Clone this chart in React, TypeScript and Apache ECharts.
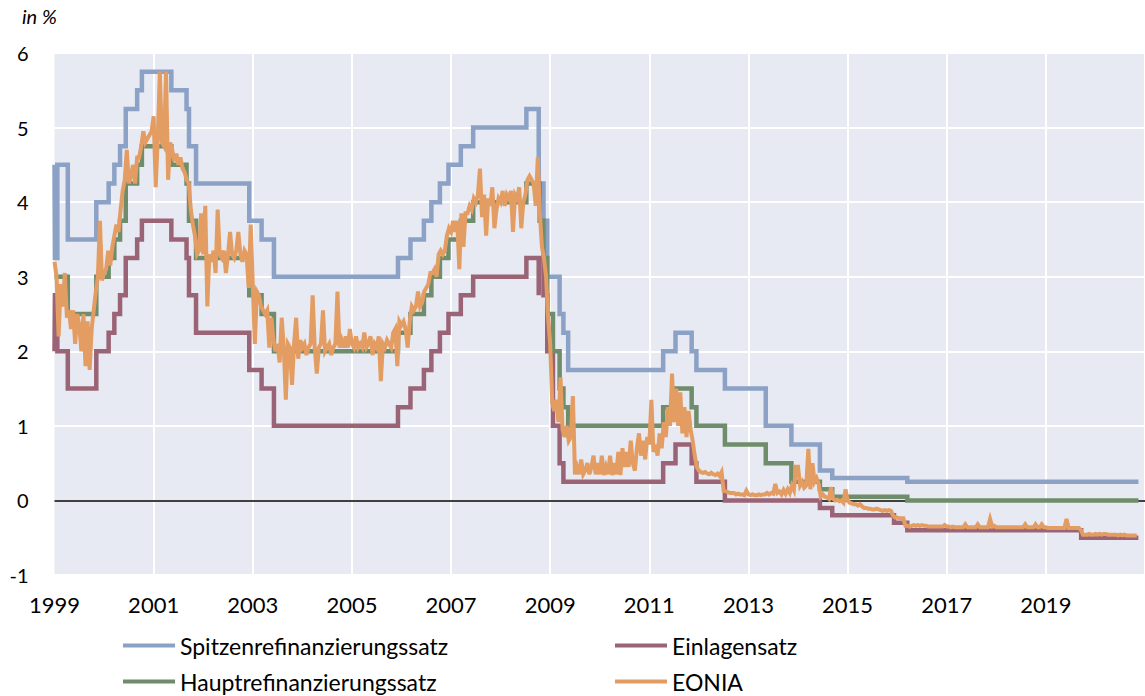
import React, { useEffect, useRef } from "react";
import * as echarts from "echarts";

// Policy rate change dates (value valid from that date on)
const rateDates = [
  "1999-01-01", "1999-01-04", "1999-01-22", "1999-04-09", "1999-11-05",
  "2000-02-04", "2000-03-17", "2000-04-28", "2000-06-09", "2000-09-01", "2000-10-06",
  "2001-05-11", "2001-08-31", "2001-09-18", "2001-11-09",
  "2002-12-06", "2003-03-07", "2003-06-06",
  "2005-12-06", "2006-03-08", "2006-06-15", "2006-08-09", "2006-10-11", "2006-12-13",
  "2007-03-14", "2007-06-13",
  "2008-07-09", "2008-10-08", "2008-10-09", "2008-10-15", "2008-11-12", "2008-12-10",
  "2009-01-21", "2009-03-11", "2009-04-08", "2009-05-13",
  "2011-04-13", "2011-07-13", "2011-11-09", "2011-12-14",
  "2012-07-11", "2013-05-08", "2013-11-13", "2014-06-11", "2014-09-10",
  "2015-12-09", "2016-03-16", "2019-09-18", "2020-11-13",
];

const spitzenrefinanzierungssatz = [
  4.5, 3.25, 4.5, 3.5, 4.0,
  4.25, 4.5, 4.75, 5.25, 5.5, 5.75,
  5.5, 5.25, 4.75, 4.25,
  3.75, 3.5, 3.0,
  3.25, 3.5, 3.75, 4.0, 4.25, 4.5,
  4.75, 5.0,
  5.25, 4.75, 4.25, 4.25, 3.75, 3.0,
  3.0, 2.5, 2.25, 1.75,
  2.0, 2.25, 2.0, 1.75,
  1.5, 1.0, 0.75, 0.4, 0.3,
  0.3, 0.25, 0.25, 0.25,
];

const hauptrefinanzierungssatz = [
  3.0, 3.0, 3.0, 2.5, 3.0,
  3.25, 3.5, 3.75, 4.25, 4.5, 4.75,
  4.5, 4.25, 3.75, 3.25,
  2.75, 2.5, 2.0,
  2.25, 2.5, 2.75, 3.0, 3.25, 3.5,
  3.75, 4.0,
  4.25, 4.25, 4.25, 3.75, 3.25, 2.5,
  2.0, 1.5, 1.25, 1.0,
  1.25, 1.5, 1.25, 1.0,
  0.75, 0.5, 0.25, 0.15, 0.05,
  0.05, 0.0, 0.0, 0.0,
];

const einlagensatz = [
  2.0, 2.75, 2.0, 1.5, 2.0,
  2.25, 2.5, 2.75, 3.25, 3.5, 3.75,
  3.5, 3.25, 2.75, 2.25,
  1.75, 1.5, 1.0,
  1.25, 1.5, 1.75, 2.0, 2.25, 2.5,
  2.75, 3.0,
  3.25, 2.75, 3.25, 3.25, 2.75, 2.0,
  1.0, 0.5, 0.25, 0.25,
  0.5, 0.75, 0.5, 0.25,
  0.0, 0.0, 0.0, -0.1, -0.2,
  -0.3, -0.4, -0.5, -0.5,
];

// EONIA, two readings per month starting January 1999
const eoniaStart = "1999-01-01";
const eoniaPerYear = 24;
const eonia = [
  // 1999
  3.2, 3.0, 2.2, 2.9, 2.6, 3.05, 2.45, 2.55, 2.3, 2.55, 2.1, 2.5, 2.35, 2.0, 2.5, 1.8, 2.4, 1.75, 2.3, 2.55, 2.8, 3.0, 3.75, 2.95,
  // 2000
  3.05, 3.1, 3.35, 3.15, 3.4, 3.55, 3.7, 3.6, 3.9, 4.15, 4.3, 4.7, 4.25, 4.35, 4.5, 4.25, 4.6, 4.6, 4.75, 4.95, 4.8, 4.85, 4.9, 4.95,
  // 2001
  5.15, 4.2, 4.85, 5.75, 4.8, 4.75, 5.75, 4.3, 4.8, 4.7, 4.55, 4.65, 4.5, 4.6, 4.45, 4.4, 4.3, 4.25, 3.9, 3.7, 3.55, 3.3, 3.35, 3.85,
  // 2002
  3.3, 3.95, 2.6, 3.3, 3.2, 3.35, 3.05, 3.9, 3.3, 3.25, 3.35, 3.05, 3.3, 3.6, 3.3, 3.25, 3.35, 3.6, 3.3, 3.2, 3.35, 3.3, 2.85, 3.7,
  // 2003
  2.9, 2.1, 2.8, 2.75, 2.6, 2.55, 2.5, 2.55, 2.05, 2.45, 2.15, 2.0, 2.1, 1.85, 2.45, 2.05, 1.35, 2.1, 2.05, 1.55, 2.1, 2.45, 1.9, 2.15,
  // 2004
  2.05, 2.1, 1.95, 2.05, 2.1, 2.75, 2.05, 1.7, 2.05, 2.1, 2.55, 2.0, 2.05, 2.1, 1.95, 2.05, 2.1, 2.8, 2.05, 2.15, 2.05, 2.2, 2.05, 2.3,
  // 2005
  2.1, 2.05, 2.2, 2.05, 2.1, 2.05, 2.25, 2.05, 2.1, 2.2, 1.95, 2.1, 2.05, 2.2, 1.6, 2.1, 2.05, 2.15, 2.1, 2.05, 2.25, 2.3, 1.8, 2.4,
  // 2006
  2.35, 2.4, 2.3, 2.05, 2.4, 2.6, 2.55, 2.6, 2.8, 2.6, 2.65, 2.8, 2.85, 2.9, 3.05, 3.05, 3.1, 3.0, 3.3, 3.35, 3.3, 3.35, 3.55, 3.65,
  // 2007
  3.6, 3.75, 3.6, 3.75, 3.1, 3.85, 3.4, 3.85, 3.85, 3.95, 3.9, 4.05, 4.0, 4.1, 4.45, 3.8, 4.1, 3.55, 4.05, 3.95, 4.2, 3.65, 3.9, 4.05,
  // 2008
  4.0, 4.15, 3.95, 4.1, 4.05, 4.15, 3.6, 4.1, 4.05, 4.2, 3.65, 4.0, 4.1, 4.3, 4.35, 4.3, 4.25, 3.95, 4.6, 3.85, 3.4, 3.25, 3.0, 2.45,
  // 2009
  2.1, 1.3, 1.2, 1.35, 1.05, 1.65, 0.95, 0.85, 1.0, 0.8, 0.85, 1.4, 0.35, 0.45, 0.35, 0.55, 0.35, 0.4, 0.5, 0.35, 0.45, 0.6, 0.35, 0.5,
  // 2010
  0.35, 0.6, 0.34, 0.45, 0.35, 0.6, 0.34, 0.5, 0.35, 0.65, 0.34, 0.7, 0.45, 0.65, 0.45, 0.8, 0.5, 0.4, 0.7, 0.9, 0.6, 0.8, 0.55, 0.85,
  // 2011
  0.75, 1.35, 0.65, 0.75, 0.6, 0.9, 0.7, 1.05, 0.85, 1.25, 1.0, 1.7, 1.05, 1.5, 1.0, 1.45, 0.9, 1.25, 0.85, 1.2, 0.95, 0.8, 0.6, 0.45,
  // 2012
  0.4, 0.38, 0.37, 0.38, 0.36, 0.35, 0.37, 0.35, 0.34, 0.36, 0.33, 0.38, 0.13, 0.12, 0.11, 0.1, 0.1, 0.1, 0.08, 0.09, 0.08, 0.08, 0.07, 0.13,
  // 2013
  0.08, 0.07, 0.08, 0.07, 0.07, 0.08, 0.07, 0.08, 0.08, 0.1, 0.08, 0.1, 0.09, 0.22, 0.1, 0.12, 0.08, 0.14, 0.09, 0.15, 0.1, 0.2, 0.14, 0.45,
  // 2014
  0.45, 0.2, 0.25, 0.17, 0.2, 0.69, 0.15, 0.5, 0.25, 0.3, 0.22, 0.05, 0.08, 0.05, 0.04, 0.02, 0.18, 0.02, 0.0, 0.01, -0.01, 0.0, -0.03, 0.15,
  // 2015
  0.0, -0.03, -0.04, -0.05, -0.05, -0.07, -0.05, -0.08, -0.1, -0.1, -0.11, -0.11, -0.12, -0.12, -0.11, -0.12, -0.13, -0.14, -0.13, -0.14, -0.13, -0.14, -0.2, -0.23,
  // 2016
  -0.23, -0.24, -0.24, -0.24, -0.34, -0.34, -0.35, -0.34, -0.33, -0.34, -0.33, -0.34, -0.33, -0.34, -0.34, -0.35, -0.35, -0.35, -0.35, -0.35, -0.35, -0.35, -0.35, -0.33,
  // 2017
  -0.35, -0.35, -0.36, -0.35, -0.36, -0.36, -0.36, -0.36, -0.36, -0.32, -0.36, -0.36, -0.36, -0.36, -0.36, -0.32, -0.36, -0.36, -0.36, -0.36, -0.36, -0.25, -0.35, -0.34,
  // 2018
  -0.36, -0.36, -0.36, -0.36, -0.36, -0.36, -0.36, -0.36, -0.36, -0.36, -0.36, -0.36, -0.36, -0.36, -0.32, -0.36, -0.36, -0.36, -0.36, -0.32, -0.36, -0.36, -0.32, -0.36,
  // 2019
  -0.36, -0.37, -0.37, -0.37, -0.37, -0.37, -0.37, -0.37, -0.37, -0.37, -0.25, -0.37, -0.37, -0.37, -0.37, -0.37, -0.37, -0.4, -0.46, -0.46, -0.46, -0.45, -0.46, -0.46,
  // 2020
  -0.45, -0.46, -0.45, -0.46, -0.45, -0.45, -0.46, -0.46, -0.46, -0.46, -0.46, -0.47, -0.46, -0.47, -0.46, -0.47, -0.47, -0.47, -0.47, -0.47, -0.47,
];

const firstYear = 1999;
const yTicks = { min: -1, max: 6, interval: 1 };
const seriesNames = ["Spitzenrefinanzierungssatz", "Hauptrefinanzierungssatz", "Einlagensatz", "EONIA"];
const colors = ["#8BA1C5", "#6F8C6B", "#9B6476", "#E39D62"];

const MS_YEAR = 365.25 * 86400000;
function yearsSinceStart(s: string): number {
  const [y, m, d] = s.split("-").map(Number);
  return (Date.UTC(y, m - 1, d) - Date.UTC(firstYear, 0, 1)) / MS_YEAR;
}

const FONT = "Lato, 'Open Sans', sans-serif";

export default function App() {
  const ref = useRef<HTMLDivElement>(null);

  useEffect(() => {
    if (!ref.current) return;
    const chart = echarts.init(ref.current, undefined, { renderer: "svg" });

    const stepData = (vals: number[]) => rateDates.map((d, i) => [yearsSinceStart(d), vals[i]]);
    const e0 = yearsSinceStart(eoniaStart);
    const eoniaData = eonia.map((v, i) => [e0 + i / eoniaPerYear, v]);

    const lineSeries = (name: string, data: number[][], color: string, step: boolean, width: number, z: number, extra: any = {}) => ({
      name,
      type: "line",
      data,
      step: step ? "end" : false,
      showSymbol: false,
      symbol: "none",
      lineStyle: { color, width, cap: "butt", join: "miter" },
      itemStyle: { color },
      z,
      ...extra,
    });

    chart.setOption({
      animation: false,
      backgroundColor: "#ffffff",
      textStyle: { fontFamily: FONT },
      grid: {
        left: 54.5,
        right: -6.2,
        top: 53,
        bottom: 121,
        show: true,
        backgroundColor: "#E7EAF2",
        borderWidth: 0,
        containLabel: false,
      },
      graphic: [
        {
          type: "text",
          left: 22,
          top: 6,
          style: {
            text: "in %",
            fontFamily: FONT,
            fontStyle: "italic",
            fontSize: 20,
            fill: "#000",
          },
        },
      ],
      legend: [
        {
          data: [seriesNames[0], seriesNames[1]],
          orient: "vertical",
          left: 123,
          top: 634,
          icon: "rect",
          itemWidth: 52,
          itemHeight: 4,
          itemGap: 13,
          selectedMode: false,
          padding: 0,
          textStyle: { fontFamily: FONT, fontSize: 23, color: "#000", lineHeight: 23 },
        },
        {
          data: [seriesNames[2], seriesNames[3]],
          orient: "vertical",
          left: 615,
          top: 634,
          icon: "rect",
          itemWidth: 52,
          itemHeight: 4,
          itemGap: 13,
          selectedMode: false,
          padding: 0,
          textStyle: { fontFamily: FONT, fontSize: 23, color: "#000", lineHeight: 23 },
        },
      ],
      xAxis: {
        type: "value",
        min: 0,
        max: 22,
        interval: 2,
        axisLine: { show: false },
        axisTick: { show: false },
        axisLabel: {
          color: "#000",
          fontFamily: FONT,
          fontSize: 22,
          margin: 18,
          showMaxLabel: false,
          formatter: (v: number) => String(firstYear + Math.round(v)),
        },
        splitLine: { show: true, showMinLine: false, lineStyle: { color: "#ffffff", width: 2 } },
      },
      yAxis: {
        type: "value",
        min: yTicks.min,
        max: yTicks.max,
        interval: yTicks.interval,
        axisLine: { show: false },
        axisTick: { show: false },
        axisLabel: { color: "#000", fontFamily: FONT, fontSize: 20, margin: 26 },
        splitLine: { show: true, lineStyle: { color: "#ffffff", width: 2 } },
      },
      series: [
        lineSeries(seriesNames[0], stepData(spitzenrefinanzierungssatz), colors[0], true, 4.5, 3, {
          markLine: {
            silent: true,
            symbol: "none",
            label: { show: false },
            lineStyle: { color: "#000", width: 1.5, type: "solid" },
            data: [{ yAxis: 0 }],
            z: 2,
          },
        }),
        lineSeries(seriesNames[2], stepData(einlagensatz), colors[2], true, 4.5, 3),
        lineSeries(seriesNames[1], stepData(hauptrefinanzierungssatz), colors[1], true, 4.5, 3),
        lineSeries(seriesNames[3], eoniaData, colors[3], false, 4, 4),
      ],
    });

    return () => chart.dispose();
  }, []);

  return (
    <div
      ref={ref}
      style={{ position: "absolute", left: 0, top: 0, width: 1145, height: 696 }}
    />
  );
}
